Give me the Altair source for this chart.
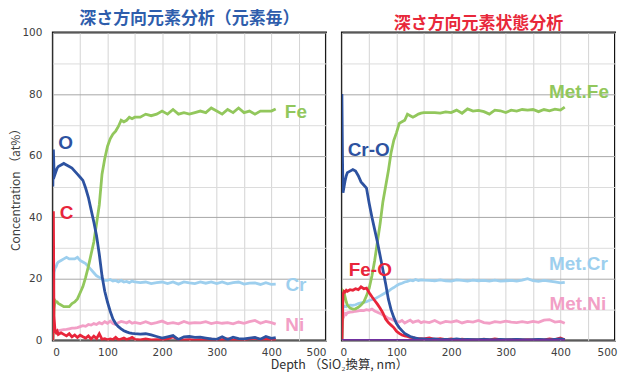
import altair as alt
import pandas as pd

depth = [0, 1, 2, 4, 6, 8, 10, 15, 20, 25, 30, 35, 40, 45, 50, 55, 60, 65, 70, 75,
         80, 85, 90, 95, 100, 105, 110, 115, 120, 125, 130, 135, 140, 145, 150,
         160, 170, 180, 190, 200, 210, 220, 230, 240, 250, 260, 270, 280, 290, 300,
         310, 320, 330, 340, 350, 360, 370, 380, 390, 400, 408]

# Left panel (element)
O = [50, 62, 56, 54, 55, 56, 56.5, 57, 57.5, 57, 56.5, 56, 55, 54, 53, 52, 49.5, 46.5, 42.5, 38.5,
     34, 28, 21, 16, 12.5, 9.5, 7, 5.5, 4.5, 3.8, 3.2, 2.8, 2.5, 2.3, 2.2,
     2.1, 2.2, 1.8, 1.3, 0.8, 1.2, 1.6, 0.3, 1.2, 1.3, 1.0, 1.1, 0.8, 0.5, 0.4,
     1.2, 0.3, 1.1, 0.6, 0.5, 0.8, 1.0, 0.4, 1.3, 0.7, 0.9]
Fe = [0, 5, 10, 13, 12.5, 12.5, 12, 11.5, 11, 11, 11, 12, 12.5, 13.5, 15.5, 17.5, 20.5, 24, 28, 32,
      38, 44, 54, 59, 63, 65.5, 67, 68, 69.5, 71.5, 71, 71.5, 72.5, 72, 72.5,
      72.5, 73.5, 73, 73.5, 74.5, 73.5, 75, 73.5, 74, 73.5, 74, 74.5, 74, 75.5, 74.5,
      73.5, 75, 74, 75.5, 74, 74.5, 73.5, 74.5, 74.5, 74.5, 75.2]
Cr = [0, 15, 22, 23.5, 24, 25, 25.5, 26, 26.5, 27, 26.5, 26.5, 26.5, 27, 26, 25.5, 25, 24, 23, 22,
      21, 20.5, 20, 19.5, 19.5, 19.8, 19.3, 19.5, 19, 19.5, 19, 19.2, 18.8, 19.3, 19,
      18.8, 19, 18.5, 18.8, 19, 18.5, 19, 18.3, 19, 18.7, 18.5, 19, 18.6, 19, 18.5,
      19, 18.4, 18.8, 19, 18.3, 18.6, 18.7, 18.2, 18.8, 18.2, 18.3]
Ni = [0, 2, 3, 3.2, 3, 3.3, 3.2, 3.4, 3.5, 3.6, 3.8, 4, 4, 4.2, 4.5, 4.8, 4.6, 5.2, 5, 5.5,
      5.2, 5.8, 5.4, 6.1, 5.6, 6.3, 5.5, 5.2, 5.8, 6.2, 6, 5.7, 6.2, 5.6, 5.9,
      5.5, 6.1, 5.4, 5.8, 6.3, 5.5, 5.8, 5.4, 6.2, 5.6, 5.8, 5.7, 6.1, 5.5, 5.9,
      5.6, 5.8, 5.4, 6, 5.6, 6.1, 6.5, 5.6, 6.2, 5.8, 5.3]
C = [0, 42, 8, 3, 2.5, 3, 2, 2.5, 2, 1.5, 2.2, 1.2, 1.8, 1.0, 1.7, 1.2, 0.8, 1.5, 0.5, 1.4,
     0.6, 2.2, 0.4, 0.6, 0.2, 0.5, 0.3, 1.0, 0.2, 0.5, 0.8, 0.3, 0.6, 1.0, 0.4,
     0.2, 0.5, 0.2, 0.3, 0.2, 0.5, 1.2, 0.3, 0.2, 0.3, 0.1, 0.3, 0.2, 0.4, 0.1,
     0.3, 0.5, 0.2, 0.3, 0.2, 0.5, 0.8, 0.3, 0.5, 0.3, 0.4]

# Right panel (chemical state)
CrO = [80, 60, 48, 50, 52, 53.5, 54.5, 55, 55.5, 55, 53.5, 51.5, 50.5, 49.5, 44.5, 40, 36, 32, 27.5, 23,
       18.5, 13.5, 10, 7.5, 5.5, 4.2, 3.2, 2.3, 1.8, 1.3, 1, 0.8, 0.6, 0.5, 0.5,
       0.4, 0.5, 0.3, 0.4, 0.3, 0.5, 0.3, 0.4, 0.3, 0.3, 0.4, 0.3, 0.2, 0.4, 0.3,
       0.3, 0.4, 0.3, 0.2, 0.3, 0.4, 0.3, 0.2, 0.4, 0.5, 0.3]
MetFe = [0, 8, 16, 15.5, 14, 12.5, 11.5, 10.5, 10.2, 10.3, 10.8, 11.5, 12.5, 14.5, 17, 21, 26, 32, 38, 45,
         50, 55, 61, 65, 67.5, 70.5, 71, 71.5, 73.5, 73, 72.5, 73, 73.5, 73.8, 74,
         74, 74, 73.8, 74.2, 74, 74.8, 73.8, 75.2, 74.5, 74.7, 74.3, 73.5, 74.8, 74.6, 74,
         74.8, 74.5, 75, 74.8, 75, 74.3, 75, 74.6, 75.1, 74.8, 75.8]
FeO = [0, 8, 15, 16, 15.8, 16.3, 16, 16.5, 16.3, 16.8, 16.5, 17.4, 16.8, 17, 15.5, 14.2, 13, 11.8, 10.5, 9,
       7, 5.8, 5, 4.2, 3, 2.3, 1.8, 1.5, 1.3, 1.0, 0.9, 0.7, 0.6, 0.6, 0.5,
       0.8, 0.4, 0.6, 0.3, 0.5, 0.2, 0.4, 0.2, 0.3, 0.2, 0.4, 0.2, 0.5, 0.3, 0.2,
       0.3, 0.4, 0.2, 0.3, 0.2, 0.3, 0.2, 0.5, 0.3, 0.8, 0.2]
MetCr = [0, 7, 11, 11, 11.2, 11, 11.3, 11.5, 11.4, 11.6, 12, 12.2, 12.4, 12.6, 13, 13.3, 13.5, 14, 14.5, 15,
         15.5, 16, 16.7, 17.2, 17.8, 18.3, 18.6, 19, 19.2, 19.6, 19.4, 19.8, 19.5, 19.7, 19.6,
         19.5, 19.4, 19.7, 19.4, 19.3, 19.7, 19.5, 19.3, 19.6, 19.4, 19.5, 19.3, 19.6, 19.3, 19.4,
         19.5, 19.3, 19.6, 20.1, 19.4, 19.2, 19.5, 19.3, 19, 18.7, 18.9]
MetNi = [0, 5, 8.5, 8, 8.8, 8.5, 9, 9.2, 9.3, 9.5, 9.6, 9.8, 9.7, 10, 9.8, 10.2, 9.6, 9.2, 8.8, 8.3,
         7.8, 7.2, 7, 6.5, 6.2, 6, 6.5, 5.7, 6.2, 6.6, 5.9, 6.2, 6.4, 5.8, 6.1,
         5.8, 6.5, 5.6, 6.2, 6.0, 6.4, 5.7, 6.2, 6.0, 6.5, 5.8, 5.6, 6.1, 5.9, 6.3,
         6.0, 5.8, 6.1, 5.8, 6.2, 5.9, 6.6, 6.8, 6.0, 6.2, 5.6]
other_depth = [0, 408]
Other = [0, 0]

left_series = {"Ni": Ni, "Cr": Cr, "Fe": Fe, "C": C, "O": O}
right_series = {"Met.Ni": MetNi, "Met.Cr": MetCr, "Met.Fe": MetFe, "Fe-O": FeO, "Cr-O": CrO}

left_labels = ["O", "C", "Fe", "Cr", "Ni"]
left_lx = [23.5, 25, 445, 445, 443]
left_ly = [64, 41.5, 74.3, 18, 5.1]
right_labels = ["Cr-O", "Fe-O", "Met.Fe", "Met.Cr", "Met.Ni"]
right_lx = [49, 52, 434, 433, 432]
right_ly = [61.7, 23, 80.7, 24.8, 11.9]

domain = ["O", "C", "Fe", "Cr", "Ni", "Cr-O", "Fe-O", "Met.Fe", "Met.Cr", "Met.Ni", "Other"]
colors = ["#2d52a0", "#e8253a", "#92c75c", "#9dcfee", "#f29fc6",
          "#2d52a0", "#e8253a", "#92c75c", "#9dcfee", "#f29fc6", "#7030a0"]
color_scale = alt.Scale(domain=domain, range=colors)

x_ticks = [0, 50, 100, 150, 200, 250, 300, 350, 400, 450, 500]
y_ticks = [0, 10, 20, 30, 40, 50, 60, 70, 80, 90, 100]


def long_df(series, extra=None):
    rows = []
    for name, vals in series.items():
        for d, v in zip(depth, vals):
            rows.append({"depth": d, "value": v, "series": name})
    if extra:
        for name, (ds, vs) in extra.items():
            for d, v in zip(ds, vs):
                rows.append({"depth": d, "value": v, "series": name})
    return pd.DataFrame(rows)


def x_axis(title, **kw):
    return alt.Axis(values=x_ticks, labelExpr="datum.value % 100 === 0 ? datum.label : ''",
                    grid=True, gridColor="#d4d4d4", gridWidth=1, ticks=False, domain=False,
                    labelColor="#404040", labelFont="DejaVu Sans", labelFontSize=10.5,
                    labelPadding=7, title=title, **kw)


def y_axis(show):
    kw = dict(values=y_ticks, grid=True,
              gridColor={"condition": {"test": "datum.value % 20 === 0", "value": "#a8a8a8"},
                         "value": "#dcdcdc"},
              gridWidth=1, ticks=False, domain=False)
    if show:
        return alt.Axis(labelExpr="datum.value % 20 === 0 ? datum.label : ''",
                        labelColor="#404040", labelFont="DejaVu Sans", labelFontSize=10.5,
                        labelPadding=11, title="Concentration （at%）",
                        titleFont="Noto Sans CJK JP", titleFontSize=12, titleFontWeight="normal",
                        titleColor="#404040", titlePadding=-1, **kw)
    return alt.Axis(labels=False, title=None, **kw)


def panel(df, labels, lx, ly, title, tcolor, show_y, xtitle):
    xs = alt.Scale(domain=[0, 500], nice=False)
    ys = alt.Scale(domain=[0, 100], nice=False)
    if xtitle:
        xa = x_axis(xtitle, titleFont="Noto Sans CJK JP", titleFontSize=12.5,
                    titleFontWeight="normal", titleColor="#303030", titlePadding=1, titleX=-3,
                    labelFlush=True, labelFlushOffset=2)
    else:
        xa = x_axis(None)
    xenc = alt.X("depth:Q", scale=xs, axis=xa)
    yenc = alt.Y("value:Q", scale=ys, axis=y_axis(show_y))
    cenc = alt.Color("series:N", scale=color_scale, legend=None)
    lines = alt.Chart(df).mark_line(strokeWidth=2.8, clip=True).encode(
        x=xenc, y=yenc, color=cenc, detail="series:N",
    )
    tdf = pd.DataFrame({"series": labels, "depth": lx, "value": ly})
    text = alt.Chart(tdf).mark_text(font="Liberation Sans", fontSize=19, fontWeight="bold",
                                    align="center", baseline="middle").encode(
        x=xenc, y=yenc, color=cenc, text="series:N",
    )
    return alt.layer(lines, text).properties(
        width=274, height=309,
        title=alt.TitleParams(title, color=tcolor, font="Noto Sans CJK JP", fontSize=17,
                              fontWeight="bold", anchor="middle", frame="group", offset=0),
    )


left = panel(long_df(left_series), left_labels, left_lx, left_ly,
             "深さ方向元素分析（元素毎）", "#2e5dac", True, None)
right = panel(long_df(right_series, {"Other": (other_depth, Other)}), right_labels, right_lx, right_ly,
              "深さ方向元素状態分析", "#e8283a", False, "Depth （SiO₂換算, nm）")

chart = alt.hconcat(left, right, spacing=16, bounds="flush").properties(
    padding={"left": 0, "top": 0, "right": 0, "bottom": 0}, background="white"
).configure_view(stroke="#111111", strokeWidth=2)

chart.save("out.html", embed_options={"renderer": "svg", "actions": False})
